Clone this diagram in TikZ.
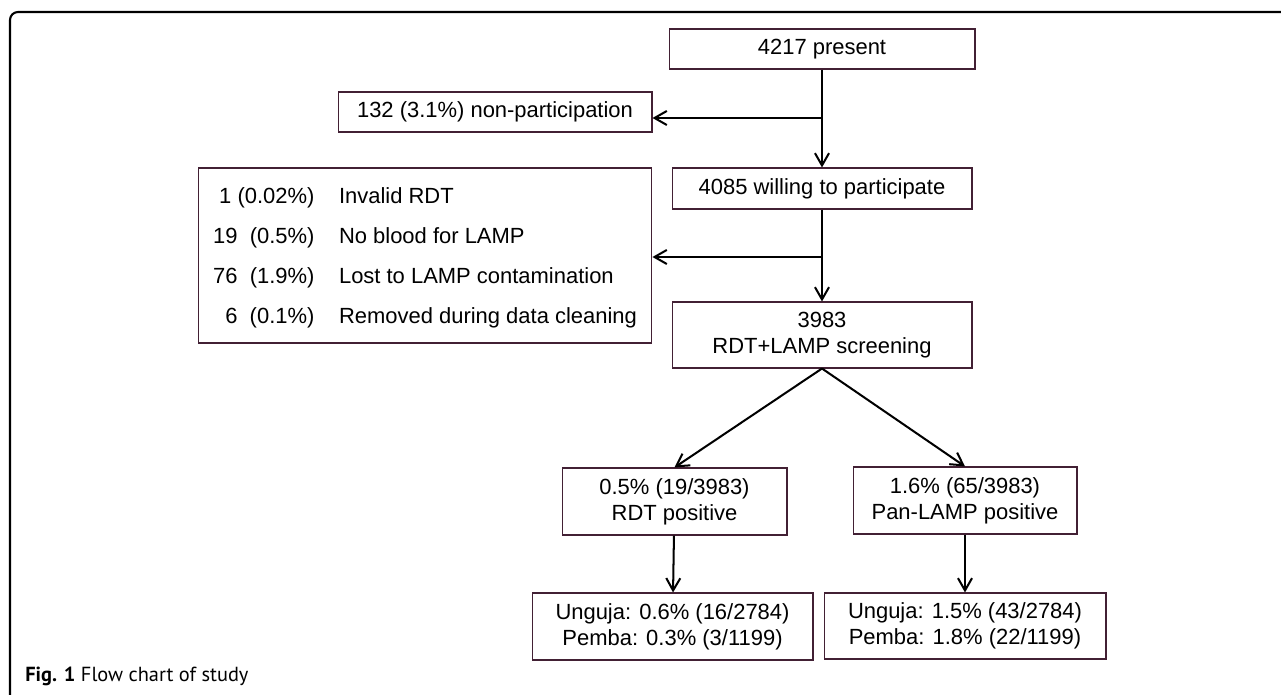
\documentclass[tikz,border=0pt]{standalone}
\usepackage{fontspec}
\setmainfont{Liberation Sans}
\newfontfamily\capfont{PT Sans}
\usetikzlibrary{arrows.meta,calc}

\definecolor{boxline}{RGB}{66,32,52}

\tikzset{
  flowbox/.style={rectangle, draw=boxline, line width=0.6pt, align=center, inner sep=0pt,
    font=\fontsize{12.5}{15}\selectfont},
  flowarrow/.style={-{Straight Barb[length=7pt,width=8pt]}, line width=1.15pt},
}

\begin{document}
\begin{tikzpicture}[x=0.02cm, y=-0.02cm]
    \useasboundingbox (0,0) rectangle (1281,695);

    % frame and caption
    \draw[line width=1.2pt, rounded corners=0.16cm] (10,695) -- (10,12) -- (1281,12);
    \draw (25,681) node[anchor=base west, inner sep=0pt, font=\capfont\fontsize{11.6}{13}\selectfont] (caption)
      {\textbf{Fig. 1} Flow chart of study};

    % main column
    \draw (822,49) node[flowbox, minimum width=6.12cm, minimum height=0.8cm] (present) {4217 present};
    \draw (822,188.5) node[flowbox, minimum width=6cm, minimum height=0.82cm] (willing) {4085 willing to participate};
    \draw (822,335) node[flowbox, minimum width=6cm, minimum height=1.32cm] (screening) {3983\\RDT+LAMP screening};

    % exclusions
    \draw (495,112) node[flowbox, minimum width=6.28cm, minimum height=0.8cm] (nonpart) {132 (3.1\%) non-participation};
    \draw (425,255.5) node[flowbox, minimum width=9.08cm, minimum height=3.5cm, font=\fontsize{12.5}{22.8}\selectfont] (excluded)
      {\begin{tabular}{@{}r@{\hspace{14pt}}l@{}}
        1 (0.02\%) & Invalid RDT\\
        19\hspace{7pt}(0.5\%) & No blood for LAMP\\
        76\hspace{7pt}(1.9\%) & Lost to LAMP contamination\\
        6\hspace{7pt}(0.1\%) & Removed during data cleaning
      \end{tabular}};

    % results
    \draw (674.5,501.5) node[flowbox, minimum width=4.5cm, minimum height=1.34cm] (rdtpos) {0.5\% (19/3983)\\RDT positive};
    \draw (965,500.5) node[flowbox, minimum width=4.48cm, minimum height=1.34cm] (lamppos) {1.6\% (65/3983)\\Pan-LAMP positive};
    \draw (672.5,626.5) node[flowbox, minimum width=5.62cm, minimum height=1.34cm] (rdtisl) {Unguja: 0.6\% (16/2784)\\Pemba: 0.3\% (3/1199)};
    \draw (965,626) node[flowbox, minimum width=5.64cm, minimum height=1.32cm] (lampisl) {Unguja: 1.5\% (43/2784)\\Pemba: 1.8\% (22/1199)};

    % branch points
    \coordinate (split1) at (822,118);
    \coordinate (split2) at (822,257);

    % lines
    \draw[flowarrow] (present) -- (willing);
    \draw[flowarrow] (split1) -- (nonpart.east |- split1);
    \draw[flowarrow] (willing) -- (screening);
    \draw[flowarrow] (split2) -- (excluded.east |- split2);
    \draw[flowarrow] (screening.south) -- (rdtpos.north);
    \draw[flowarrow] (screening.south) -- (lamppos.north);
    \draw[flowarrow] (rdtpos) -- (rdtisl);
    \draw[flowarrow] (lamppos) -- (lampisl);

\end{tikzpicture}
\end{document}
